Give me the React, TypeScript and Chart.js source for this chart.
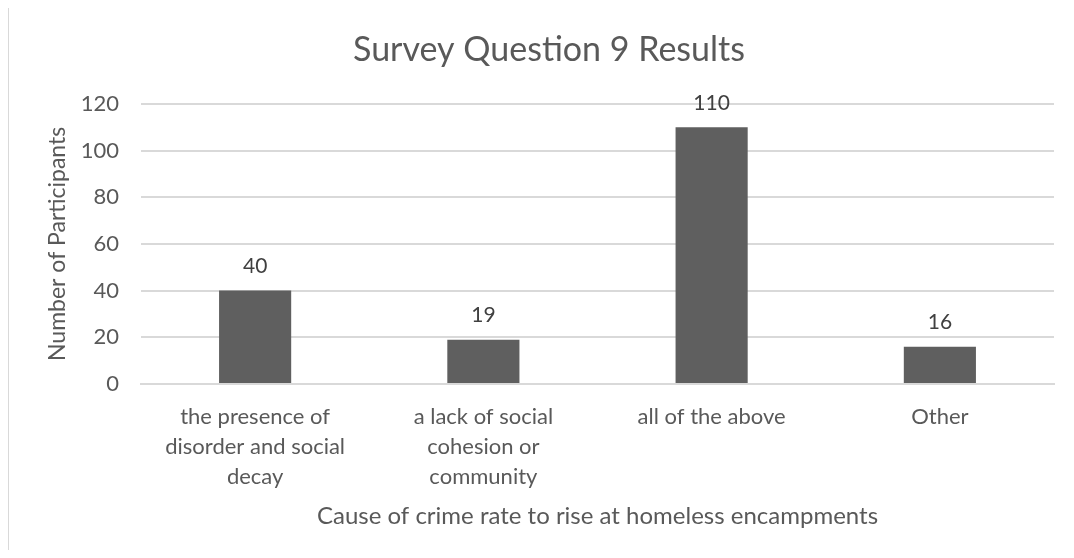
import React, { useEffect, useRef } from "react";
import { Chart, registerables } from "chart.js";

Chart.register(...registerables);

const chartTitle = "Survey Question 9 Results";
const categories: string[][] = [
  ["the presence of", "disorder and social", "decay"],
  ["a lack of social", "cohesion or", "community"],
  ["all of the above"],
  ["Other"],
];
const participants: number[] = [40, 19, 110, 16];
const yTitle = "Number of Participants";
const xTitle = "Cause of crime rate to rise at homeless encampments";

const TEXT = "#595959";
const FONT = "Lato, 'Open Sans', sans-serif";

const dataLabelPlugin = {
  id: "dataLabels",
  afterDatasetsDraw(chart: any) {
    const ctx = chart.ctx;
    const meta = chart.getDatasetMeta(0);
    const values = chart.data.datasets[0].data;
    ctx.save();
    ctx.fillStyle = "#404040";
    ctx.font = `21px ${FONT}`;
    ctx.textAlign = "center";
    ctx.textBaseline = "middle";
    meta.data.forEach((el: any, i: number) => {
      ctx.fillText(String(values[i]), el.x, el.y - 24);
    });
    ctx.restore();
  },
};

export default function App() {
  const ref = useRef<HTMLCanvasElement | null>(null);
  useEffect(() => {
    if (!ref.current) return;
    const chart = new Chart(ref.current, {
      type: "bar",
      data: {
        labels: categories,
        datasets: [
          {
            data: participants,
            backgroundColor: "#5f5f5f",
            barPercentage: 0.316,
            categoryPercentage: 1,
          },
        ],
      },
      options: {
        animation: false,
        responsive: false,
        layout: { padding: { left: 44, right: 20, top: 0, bottom: 0 } },
        plugins: {
          legend: { display: false },
          tooltip: { enabled: false },
          title: {
            display: true,
            text: chartTitle,
            color: TEXT,
            font: { family: FONT, size: 34, weight: "normal", lineHeight: 1.2 },
            padding: { top: 30, bottom: 33 },
          },
        },
        scales: {
          x: {
            grid: { display: false, drawTicks: false },
            border: { display: true, color: "#d9d9d9", width: 2 },
            ticks: {
              color: TEXT,
              font: { family: FONT, size: 22, lineHeight: "30px" },
              maxRotation: 0,
              autoSkip: false,
              padding: 18,
            },
            title: {
              display: true,
              text: xTitle,
              color: TEXT,
              font: { family: FONT, size: 24, lineHeight: 1.2 },
              padding: { top: 0, bottom: 27 },
            },
            afterFit: (s: any) => {
              s.height = 174;
            },
          },
          y: {
            min: 0,
            max: 120,
            ticks: {
              stepSize: 20,
              color: TEXT,
              font: { family: FONT, size: 22 },
              padding: 22,
            },
            grid: { color: "#d9d9d9", lineWidth: 2, drawTicks: false },
            border: { display: false },
            title: {
              display: true,
              text: yTitle,
              color: TEXT,
              font: { family: FONT, size: 23, lineHeight: 1.2 },
              padding: 0,
            },
            afterFit: (s: any) => {
              s.width = 97;
            },
          },
        },
      },
      plugins: [dataLabelPlugin],
    });
    return () => chart.destroy();
  }, []);

  return (
    <div
      style={{
        position: "relative",
        width: 1074,
        height: 558,
        margin: -8,
        overflow: "hidden",
        background: "#fff",
      }}
    >
      <div
        style={{
          position: "absolute",
          left: 7,
          top: 4,
          width: 1200,
          height: 700,
          border: "2px solid #d9d9d9",
          boxSizing: "border-box",
        }}
      />
      <canvas
        ref={ref}
        width={1074}
        height={558}
        style={{ position: "absolute", left: 0, top: 0 }}
      />
    </div>
  );
}
